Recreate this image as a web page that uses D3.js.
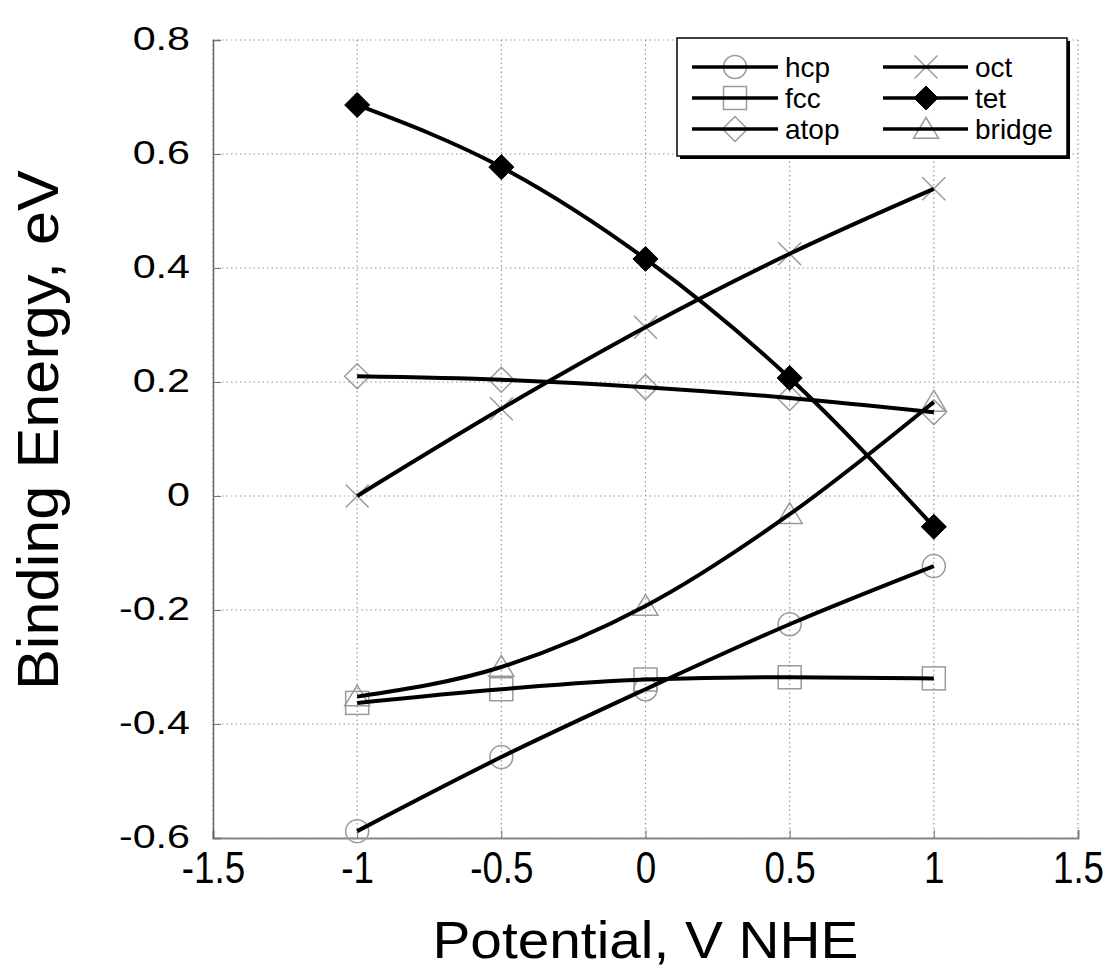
<!DOCTYPE html>
<html>
<head>
<meta charset="utf-8">
<script src="https://cdn.jsdelivr.net/npm/d3@7/dist/d3.min.js"></script>
<style>
  body { margin: 0; background: #fff; }
  svg { display: block; font-family: "Liberation Sans", Arial, Helvetica, sans-serif; }
</style>
</head>
<body>
<svg width="1115" height="972"></svg>
<script>
// data
var potential = [-1, -0.5, 0, 0.5, 1];
var hcp    = [-0.588, -0.458, -0.339, -0.225, -0.123];
var fcc    = [-0.363, -0.339, -0.322, -0.318, -0.320];
var atop   = [0.210, 0.204, 0.191, 0.172, 0.147];
var oct    = [0.000, 0.153, 0.296, 0.425, 0.539];
var tet    = [0.686, 0.577, 0.416, 0.207, -0.054];
var bridge = [-0.352, -0.300, -0.193, -0.032, 0.165];

var xTicks = [-1.5, -1, -0.5, 0, 0.5, 1, 1.5];
var xTickLabels = ["-1.5", "-1", "-0.5", "0", "0.5", "1", "1.5"];
var yTicks = [-0.6, -0.4, -0.2, 0, 0.2, 0.4, 0.6, 0.8];
var yTickLabels = ["-0.6", "-0.4", "-0.2", "0", "0.2", "0.4", "0.6", "0.8"];

var series = [
  { name: "hcp", values: hcp, marker: "circle" },
  { name: "fcc", values: fcc, marker: "square" },
  { name: "atop", values: atop, marker: "diamond" },
  { name: "oct", values: oct, marker: "cross" },
  { name: "tet", values: tet, marker: "filled" },
  { name: "bridge", values: bridge, marker: "triangle" }
];

var svg = d3.select("svg");
var plotLeft = 213, plotRight = 1078, plotTop = 40, plotBottom = 838;

var x = d3.scaleLinear().domain([-1.5, 1.5]).range([plotLeft, plotRight]);
var y = d3.scaleLinear().domain([-0.6, 0.8]).range([plotBottom, plotTop]);

// dotted grid
var grid = svg.append("g");
grid.selectAll("line.vx").data(xTicks).enter().append("line")
  .attr("x1", d => x(d)).attr("x2", d => x(d))
  .attr("y1", plotTop).attr("y2", plotBottom)
  .attr("stroke", "#999").attr("stroke-width", 1.2).attr("stroke-dasharray", "1.5,3");
grid.selectAll("line.hy").data(yTicks).enter().append("line")
  .attr("x1", plotLeft).attr("x2", plotRight)
  .attr("y1", d => y(d)).attr("y2", d => y(d))
  .attr("stroke", "#999").attr("stroke-width", 1.2).attr("stroke-dasharray", "1.5,3");

// axes
var xAxis = svg.append("g")
  .attr("transform", "translate(0," + plotBottom + ")")
  .call(d3.axisBottom(x).tickValues(xTicks).tickSize(-8).tickPadding(14)
    .tickFormat((d, i) => xTickLabels[i]));
xAxis.select(".domain").attr("stroke", "#888").attr("stroke-width", 2);
xAxis.selectAll(".tick line").attr("stroke", "#777");
xAxis.selectAll("text").attr("fill", "#000").style("font-size", "40px")
  .attr("y", 14 / 1.1).attr("dy", "0.71em")
  .attr("transform", "scale(0.92,1.1)");

var yAxis = svg.append("g")
  .attr("transform", "translate(" + plotLeft + ",0)")
  .call(d3.axisLeft(y).tickValues(yTicks).tickSize(-8).tickPadding(0)
    .tickFormat((d, i) => yTickLabels[i]));
yAxis.select(".domain").attr("stroke", "#666").attr("stroke-width", 1.5);
yAxis.selectAll(".tick line").attr("stroke", "#777");
yAxis.selectAll("text").attr("fill", "#000").style("font-size", "33px")
  .attr("x", -23 / 1.25).attr("dy", "0.28em")
  .attr("transform", "scale(1.25,1)");

// markers
function drawMarker(g, type, size) {
  var s = size / 2;
  var grey = "#9a9a9a";
  if (type === "circle") {
    g.append("circle").attr("r", s).attr("fill", "none").attr("stroke", grey).attr("stroke-width", 1.5);
  } else if (type === "square") {
    g.append("rect").attr("x", -s).attr("y", -s).attr("width", size).attr("height", size)
      .attr("fill", "none").attr("stroke", grey).attr("stroke-width", 1.5);
  } else if (type === "diamond") {
    g.append("path").attr("d", "M0," + (-s - 1) + "L" + (s + 1) + ",0L0," + (s + 1) + "L" + (-s - 1) + ",0Z")
      .attr("fill", "none").attr("stroke", grey).attr("stroke-width", 1.5);
  } else if (type === "cross") {
    g.append("path").attr("d", "M" + (-s) + "," + (-s) + "L" + s + "," + s + "M" + s + "," + (-s) + "L" + (-s) + "," + s)
      .attr("fill", "none").attr("stroke", grey).attr("stroke-width", 1.5);
  } else if (type === "filled") {
    g.append("path").attr("d", "M0," + (-s) + "L" + s + ",0L0," + s + "L" + (-s) + ",0Z")
      .attr("fill", "#000").attr("stroke", "#000").attr("stroke-width", 1);
  } else if (type === "triangle") {
    g.append("path").attr("d", "M0," + (-s) + "L" + (s + 1) + "," + (s * 0.8) + "L" + (-s - 1) + "," + (s * 0.8) + "Z")
      .attr("fill", "none").attr("stroke", grey).attr("stroke-width", 1.5);
  }
}

var markLayer = svg.append("g");
series.forEach(function (sr) {
  sr.values.forEach(function (v, i) {
    var g = markLayer.append("g").attr("transform", "translate(" + x(potential[i]) + "," + y(v) + ")");
    drawMarker(g, sr.marker, 23);
  });
});

// curves
var line = d3.line()
  .x((d, i) => x(potential[i]))
  .y(d => y(d))
  .curve(d3.curveMonotoneX);

svg.append("g").selectAll("path").data(series).enter().append("path")
  .attr("d", d => line(d.values))
  .attr("fill", "none").attr("stroke", "#000").attr("stroke-width", 4);

// re-draw the filled diamonds over the lines
series.filter(s => s.marker === "filled").forEach(function (sr) {
  sr.values.forEach(function (v, i) {
    var g = svg.append("g").attr("transform", "translate(" + x(potential[i]) + "," + y(v) + ")");
    drawMarker(g, "filled", 25);
  });
});

// legend
var leg = svg.append("g");
leg.append("rect").attr("x", 680).attr("y", 41).attr("width", 390).attr("height", 118).attr("fill", "#000");
leg.append("rect").attr("x", 677).attr("y", 38).attr("width", 390).attr("height", 118)
  .attr("fill", "#fff").attr("stroke", "#000").attr("stroke-width", 1.5);

var rows = [67, 98, 129];
var cols = [{ x1: 692, x2: 778, mx: 735, tx: 785 }, { x1: 883, x2: 968, mx: 926, tx: 975 }];
series.forEach(function (sr, i) {
  var c = cols[Math.floor(i / 3)], ry = rows[i % 3];
  var g = leg.append("g");
  drawMarker(g.append("g").attr("transform", "translate(" + c.mx + "," + ry + ")"), sr.marker, sr.marker === "filled" ? 24 : 23);
  g.append("line").attr("x1", c.x1).attr("x2", c.x2).attr("y1", ry).attr("y2", ry)
    .attr("stroke", "#000").attr("stroke-width", 3.5);
  if (sr.marker === "filled") {
    drawMarker(g.append("g").attr("transform", "translate(" + c.mx + "," + ry + ")"), "filled", 24);
  }
  g.append("text").attr("x", c.tx).attr("y", ry).attr("dy", "0.35em")
    .style("font-size", "28px").attr("fill", "#000").text(sr.name);
});

// axis titles
svg.append("text")
  .attr("x", (plotLeft + plotRight) / 2).attr("y", 958)
  .attr("text-anchor", "middle")
  .style("font-size", "52px")
  .attr("textLength", 426).attr("lengthAdjust", "spacingAndGlyphs")
  .text("Potential, V NHE");

svg.append("text")
  .attr("transform", "translate(58,430)rotate(-90)")
  .attr("text-anchor", "middle")
  .style("font-size", "58px")
  .attr("textLength", 520).attr("lengthAdjust", "spacingAndGlyphs")
  .text("Binding Energy, eV");
</script>
</body>
</html>
